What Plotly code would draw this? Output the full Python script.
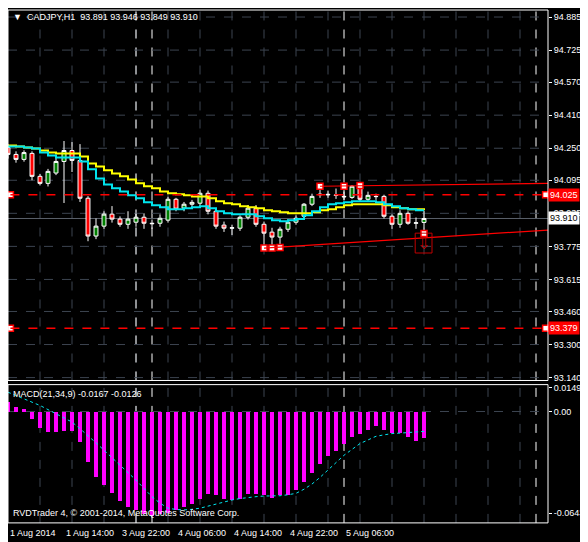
import plotly.graph_objects as go

# ---- data (CADJPY H1) ----
bars = list(range(53))
opens = [94.254, 94.220, 94.196, 94.225, 94.114, 94.080, 94.130, 94.186, 94.239, 94.191,
         94.008, 93.825, 93.873, 93.931, 93.907, 93.882, 93.892, 93.916, 93.887, 93.887,
         93.902, 94.003, 93.960, 93.979, 93.984, 94.032, 93.945, 93.878, 93.863, 93.863,
         93.916, 93.960, 93.882, 93.844, 93.820, 93.858, 93.892, 93.921, 93.979, 94.025,
         94.027, 94.022, 94.017, 94.012, 94.075, 94.003, 94.017, 94.017, 93.921, 93.882,
         93.935, 93.887, 93.891]
closes = [94.220, 94.196, 94.229, 94.114, 94.080, 94.138, 94.186, 94.239, 94.191, 94.008,
          93.825, 93.873, 93.931, 93.907, 93.882, 93.907, 93.916, 93.887, 93.885, 93.911,
          94.003, 93.955, 93.979, 93.988, 94.032, 93.945, 93.873, 93.863, 93.865, 93.916,
          93.960, 93.882, 93.839, 93.820, 93.858, 93.892, 93.911, 93.979, 94.017, 94.027,
          94.025, 94.024, 94.015, 94.066, 94.003, 94.022, 94.016, 93.921, 93.882, 93.935,
          93.887, 93.889, 93.910]
highs = [94.270, 94.235, 94.240, 94.235, 94.125, 94.150, 94.205, 94.285, 94.280, 94.270,
         94.018, 93.910, 93.945, 93.970, 93.920, 93.945, 93.935, 93.935, 93.905, 93.930,
         94.015, 94.010, 93.990, 94.000, 94.050, 94.045, 93.955, 93.895, 93.880, 93.925,
         93.975, 93.975, 93.895, 93.865, 93.870, 93.905, 93.925, 93.985, 94.030, 94.066,
         94.045, 94.055, 94.066, 94.072, 94.080, 94.040, 94.030, 94.025, 93.930, 93.950,
         93.945, 93.915, 93.946]
lows = [94.200, 94.180, 94.185, 94.095, 94.070, 94.065, 94.120, 93.985, 94.135, 93.990,
        93.800, 93.810, 93.860, 93.890, 93.870, 93.860, 93.870, 93.860, 93.860, 93.870,
        93.890, 93.945, 93.945, 93.965, 93.970, 93.930, 93.860, 93.845, 93.830, 93.850,
        93.905, 93.870, 93.767, 93.767, 93.770, 93.845, 93.880, 93.905, 93.970, 94.010,
        94.010, 94.005, 94.000, 94.005, 93.990, 93.995, 94.000, 93.910, 93.860, 93.865,
        93.880, 93.860, 93.849]

ma_slow = [94.263, 94.258, 94.254, 94.249, 94.239, 94.229, 94.225, 94.225, 94.225, 94.210,
           94.176, 94.162, 94.143, 94.128, 94.114, 94.099, 94.080, 94.066, 94.056, 94.041,
           94.032, 94.027, 94.022, 94.017, 94.017, 94.008, 93.993, 93.984, 93.979, 93.969,
           93.964, 93.960, 93.950, 93.945, 93.940, 93.935, 93.935, 93.935, 93.940, 93.950,
           93.955, 93.964, 93.974, 93.979, 93.979, 93.979, 93.979, 93.974, 93.964, 93.960,
           93.955, 93.955, 93.950]
ma_fast = [94.258, 94.258, 94.254, 94.249, 94.229, 94.215, 94.205, 94.205, 94.205, 94.186,
           94.148, 94.104, 94.075, 94.056, 94.041, 94.022, 94.008, 93.988, 93.974, 93.964,
           93.955, 93.955, 93.960, 93.964, 93.969, 93.960, 93.945, 93.935, 93.931, 93.931,
           93.931, 93.921, 93.911, 93.902, 93.897, 93.902, 93.907, 93.926, 93.945, 93.964,
           93.979, 93.984, 93.988, 93.993, 93.993, 93.993, 93.988, 93.979, 93.969, 93.960,
           93.955, 93.950, 93.950]

macd_hist = [0.0065, 0.0031, 0.0017, -0.0042, -0.0099, -0.0130, -0.0130, -0.0120, -0.0120, -0.0193,
             -0.0319, -0.0409, -0.0465, -0.0514, -0.0564, -0.0602, -0.0623, -0.0644, -0.0660, -0.0644,
             -0.0639, -0.0623, -0.0602, -0.0581, -0.0549, -0.0518, -0.0528, -0.0554, -0.0560, -0.0549,
             -0.0518, -0.0518, -0.0528, -0.0543, -0.0528, -0.0528, -0.0497, -0.0445, -0.0388, -0.0329,
             -0.0281, -0.0245, -0.0203, -0.0161, -0.0140, -0.0113, -0.0092, -0.0113, -0.0136, -0.0136,
             -0.0161, -0.0182, -0.0167]
macd_signal = [0.0122, 0.0101, 0.0080, 0.0059, 0.0038, 0.0012, -0.0015, -0.0041, -0.0067, -0.0109,
               -0.0151, -0.0198, -0.0245, -0.0292, -0.0340, -0.0387, -0.0434, -0.0487, -0.0539, -0.0580,
               -0.0612, -0.0620, -0.0623, -0.0619, -0.0612, -0.0599, -0.0585, -0.0572, -0.0560, -0.0551,
               -0.0543, -0.0539, -0.0535, -0.0534, -0.0533, -0.0527, -0.0518, -0.0492, -0.0459, -0.0417,
               -0.0371, -0.0324, -0.0277, -0.0240, -0.0203, -0.0180, -0.0157, -0.0148, -0.0140, -0.0137,
               -0.0134, -0.0130, -0.0126]

price_ticks = [94.885, 94.725, 94.570, 94.410, 94.250, 94.095, 93.935, 93.775, 93.615, 93.460, 93.300, 93.140]
macd_ticks = [0.0149, 0.00, -0.0643]
macd_tick_text = ["0.0149", "0.00", "-0.0643"]
time_bars = [0, 7, 14, 21, 28, 35, 42]
time_labels = ["1 Aug 2014", "1 Aug 14:00", "3 Aug 22:00", "4 Aug 06:00", "4 Aug 14:00", "4 Aug 22:00", "5 Aug 06:00"]
separators = [16, 18, 42, 66]
level_hi, level_lo, bid = 94.025, 93.379, 93.910
frac_up_bars, frac_up = [39, 42, 44], [94.066, 94.066, 94.070]
frac_dn_bars, frac_dn = [32, 33, 34], [93.767, 93.767, 93.770]

FONT = "Liberation Sans"
FS = 9
GRID = "#3c4450"
XR = [0.0, 67.5]

fig = go.Figure()
fig.add_trace(go.Candlestick(
    x=bars, open=opens, high=highs, low=lows, close=closes,
    increasing=dict(line=dict(color="white", width=1), fillcolor="#008000"),
    decreasing=dict(line=dict(color="white", width=1), fillcolor="#ff0000"),
    whiskerwidth=0, hoverinfo="skip", xaxis="x", yaxis="y"))
fig.add_trace(go.Scatter(x=bars, y=ma_slow, mode="lines", line=dict(color="#ffff00", width=2, shape="hv"),
                         xaxis="x", yaxis="y"))
fig.add_trace(go.Scatter(x=bars, y=ma_fast, mode="lines", line=dict(color="#00e5ee", width=2, shape="hv"),
                         xaxis="x", yaxis="y"))
fig.add_trace(go.Scatter(x=frac_up_bars + frac_dn_bars + [0.3, 0.3, 67.2, 67.2, 52],
                         y=frac_up + frac_dn + [level_hi, level_lo, level_hi, level_lo, 93.837],
                         mode="markers", marker=dict(symbol="square", size=6, color="white",
                                                     line=dict(color="red", width=1.5)),
                         cliponaxis=False, xaxis="x", yaxis="y"))
fig.add_trace(go.Bar(x=bars, y=macd_hist, marker=dict(color="#ff00ff", line=dict(width=0)),
                     width=0.4, xaxis="x2", yaxis="y2"))
fig.add_trace(go.Scatter(x=bars, y=macd_signal, mode="lines", line=dict(color="#00e5ee", width=1, dash="dot"),
                         xaxis="x2", yaxis="y2"))

shapes = []
for p in price_ticks:
    shapes.append(dict(type="line", xref="x", yref="y", x0=XR[0], x1=XR[1], y0=p, y1=p,
                       line=dict(color=GRID, width=1, dash="dash"), layer="below"))
for b in range(4, 68, 4):
    for ya in ("y", "y2"):
        shapes.append(dict(type="line", xref="x", yref=ya + " domain", x0=b, x1=b, y0=0, y1=1,
                           line=dict(color=GRID, width=1, dash="dash"), layer="below"))
for b in separators:
    for ya in ("y", "y2"):
        shapes.append(dict(type="line", xref="x", yref=ya + " domain", x0=b, x1=b, y0=0, y1=1,
                           line=dict(color="white", width=1, dash="dash"), layer="below"))
shapes.append(dict(type="line", xref="x", yref="y2", x0=XR[0], x1=XR[1], y0=0, y1=0,
                   line=dict(color=GRID, width=1, dash="dash"), layer="below"))
shapes.append(dict(type="line", xref="x", yref="y", x0=XR[0], x1=XR[1], y0=bid, y1=bid,
                   line=dict(color="#5a606a", width=1), layer="below"))
for p in (level_hi, level_lo):
    shapes.append(dict(type="line", xref="x", yref="y", x0=0.3, x1=67.2, y0=p, y1=p,
                       line=dict(color="red", width=1.5, dash="dash")))
shapes.append(dict(type="line", xref="x", yref="y", x0=32, x1=XR[1], y0=93.767, y1=93.854,
                   line=dict(color="red", width=1.2)))
shapes.append(dict(type="line", xref="x", yref="y", x0=39, x1=XR[1], y0=94.066, y1=94.080,
                   line=dict(color="red", width=1.2)))
shapes.append(dict(type="rect", xref="x", yref="y", x0=50.9, x1=53, y0=93.743, y1=93.839,
                   line=dict(color="#c00000", width=1)))
for ya in ("y", "y2"):
    shapes.append(dict(type="rect", xref="paper", yref=ya + " domain", x0=0, x1=1, y0=0, y1=1,
                       line=dict(color="white", width=1)))

ann = [
    dict(text="▼  CADJPY,H1  93.891 93.946 93.849 93.910", xref="paper", yref="paper", x=0.005, y=1.0,
         xanchor="left", yanchor="top", showarrow=False, font=dict(color="white", size=FS, family=FONT)),
    dict(text="MACD(21,34,9) -0.0167 -0.0126", xref="paper", yref="y2 domain", x=0.005, y=0.98,
         xanchor="left", yanchor="top", showarrow=False, font=dict(color="white", size=FS, family=FONT)),
    dict(text="RVDTrader 4, © 2001-2014, MetaQuotes Software Corp.", xref="paper", yref="y2 domain",
         x=0.005, y=0.02, xanchor="left", yanchor="bottom", showarrow=False,
         font=dict(color="white", size=FS, family=FONT)),
    dict(text="⇩", xref="x", yref="y", x=51.95, y=93.79, showarrow=False,
         font=dict(color="#c00000", size=16, family="DejaVu Sans")),
]
for b, t in zip(time_bars, time_labels):
    ann.append(dict(text=t, xref="x", yref="paper", x=b, y=0, xanchor="left", yanchor="top",
                    showarrow=False, font=dict(color="white", size=FS, family=FONT)))
for p, bg, fg in ((level_hi, "#ff0000", "white"), (bid, "white", "black"), (level_lo, "#ff0000", "white")):
    ann.append(dict(text=f"{p:.3f}", xref="paper", yref="y", x=1, y=p, xanchor="left", yanchor="middle",
                    showarrow=False, bgcolor=bg, borderpad=1,
                    font=dict(color=fg, size=FS, family=FONT)))

fig.update_layout(
    width=580, height=534, margin=dict(l=0, r=40, t=0, b=16),
    paper_bgcolor="black", plot_bgcolor="black", showlegend=False, bargap=0,
    shapes=shapes, annotations=ann,
    xaxis=dict(range=XR, showgrid=False, showticklabels=False, zeroline=False,
               rangeslider=dict(visible=False), anchor="y"),
    xaxis2=dict(range=XR, showgrid=False, showticklabels=False, zeroline=False, anchor="y2",
                matches="x"),
    yaxis=dict(domain=[0.282, 1.0], range=[93.126, 94.919], side="right", tickvals=price_ticks,
               ticktext=[f"{p:.3f}" for p in price_ticks], showgrid=False, zeroline=False,
               ticks="outside", ticklen=3, tickcolor="white",
               tickfont=dict(color="white", size=FS, family=FONT)),
    yaxis2=dict(domain=[0.006, 0.274], range=[-0.0705, 0.0170], side="right", tickvals=macd_ticks,
                ticktext=macd_tick_text, showgrid=False, zeroline=False,
                ticks="outside", ticklen=3, tickcolor="white",
                tickfont=dict(color="white", size=FS, family=FONT)),
)

fig.write_html("out.html")
